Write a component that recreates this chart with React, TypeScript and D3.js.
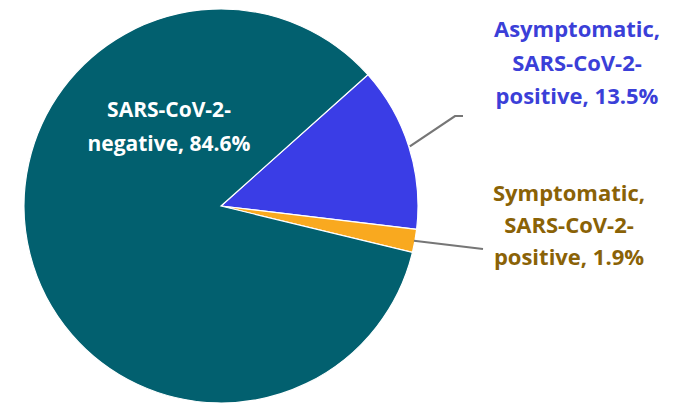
import React from "react";
import * as d3 from "d3";

const categories = [
  "Asymptomatic, SARS-CoV-2-positive",
  "Symptomatic, SARS-CoV-2-positive",
  "SARS-CoV-2-negative",
];
const values = [13.5, 1.9, 84.6];
const colors = ["#3A3DE6", "#F9A91F", "#02606F"];
const labelColors = ["#3B3FD8", "#8A6206", "#FFFFFF"];
const labelLines = [
  ["Asymptomatic,", "SARS-CoV-2-", "positive, 13.5%"],
  ["Symptomatic,", "SARS-CoV-2-", "positive, 1.9%"],
  ["SARS-CoV-2-", "negative, 84.6%"],
];

const W = 677;
const H = 403;
const cx = 221;
const cy = 206;
const R = 197;
const startDeg = 48.2;

export default function App() {
  const pie = d3
    .pie<number>()
    .sort(null)
    .value((d) => d)
    .startAngle((startDeg * Math.PI) / 180)
    .endAngle((startDeg * Math.PI) / 180 + 2 * Math.PI);
  const arcs = pie(values);
  const arc = d3.arc<d3.PieArcDatum<number>>().innerRadius(0).outerRadius(R);

  const labelPos = [
    { x: 577, y: 37 },
    { x: 569, y: 201 },
    { x: 169, y: 117 },
  ];
  const lineH = [33.5, 32, 34];
  const fontSizes = [22, 22, 21];

  const pt = (a: number, r: number) => [cx + r * Math.sin(a), cy - r * Math.cos(a)];
  const mid0 = (arcs[0].startAngle + arcs[0].endAngle) / 2;
  const mid1 = (arcs[1].startAngle + arcs[1].endAngle) / 2;
  const p0 = pt(mid0, R + 1);
  const p1 = pt(mid1, R - 1);

  return (
    <svg width={W} height={H} style={{ position: "absolute", left: 0, top: 0 }}>
      <rect width={W} height={H} fill="#fff" />
      <g transform={`translate(${cx},${cy})`}>
        {arcs.map((a, i) => (
          <path key={i} d={arc(a) || ""} fill={colors[i]} stroke="#fff" strokeWidth={1.2} />
        ))}
      </g>
      <polyline
        points={`${p0[0]},${p0[1]} 455,116 463,116`}
        fill="none"
        stroke="#767676"
        strokeWidth={2.2}
      />
      <polyline
        points={`${p1[0]},${p1[1]} 483,249`}
        fill="none"
        stroke="#767676"
        strokeWidth={2.2}
      />
      {labelLines.map((lines, i) => (
        <text
          key={i}
          x={labelPos[i].x}
          y={labelPos[i].y}
          textAnchor="middle"
          fill={labelColors[i]}
          fontFamily="'Open Sans', sans-serif"
          fontWeight="bold"
          fontSize={fontSizes[i]}
        >
          {lines.map((l, j) => (
            <tspan key={j} x={labelPos[i].x} y={labelPos[i].y + j * lineH[i]}>
              {l}
            </tspan>
          ))}
        </text>
      ))}
    </svg>
  );
}
